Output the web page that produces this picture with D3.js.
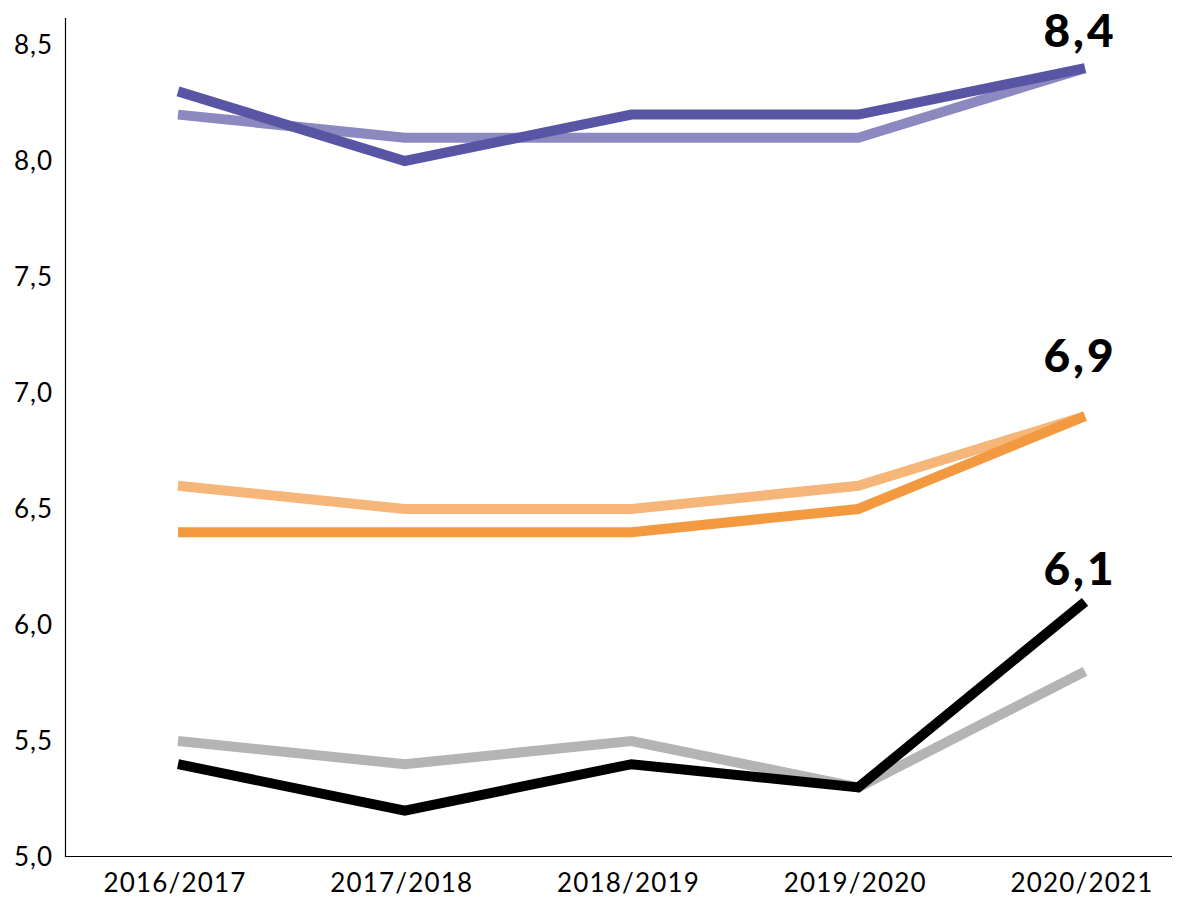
<!DOCTYPE html>
<html>
<head>
<meta charset="utf-8">
<script src="https://cdn.jsdelivr.net/npm/d3@7"></script>
<style>
  body { margin: 0; background: #fff; }
  text { font-family: "Lato", "DejaVu Sans", sans-serif; }
</style>
</head>
<body>
<div id="chart"></div>
<script>
// school years on the x axis
const years = ["2016/2017", "2017/2018", "2018/2019", "2019/2020", "2020/2021"];

// series values
const purpleDark = [8.3, 8.0, 8.2, 8.2, 8.4];
const purpleLight = [8.2, 8.1, 8.1, 8.1, 8.4];
const orangeLight = [6.6, 6.5, 6.5, 6.6, 6.9];
const orangeDark = [6.4, 6.4, 6.4, 6.5, 6.9];
const greyLine = [5.5, 5.4, 5.5, 5.3, 5.8];
const blackLine = [5.4, 5.2, 5.4, 5.3, 6.1];

const yTicks = [5.0, 5.5, 6.0, 6.5, 7.0, 7.5, 8.0, 8.5];

// end labels
const endLabels = ["8,4", "6,9", "6,1"];
const endValues = [8.4, 6.9, 6.1];

const series = [
  { values: purpleLight, color: "#8b89c0" },
  { values: purpleDark, color: "#5856a4" },
  { values: orangeLight, color: "#f6b679" },
  { values: orangeDark, color: "#f39a40" },
  { values: greyLine, color: "#b4b4b4" },
  { values: blackLine, color: "#000000" }
];

const width = 1184;
const height = 899;

const svg = d3.select("#chart")
  .append("svg")
  .attr("width", width)
  .attr("height", height);

const x = d3.scalePoint()
  .domain(years)
  .range([178, 1085]);

const y = d3.scaleLinear()
  .domain([5.0, 8.5])
  .range([857, 45]);

// axes
svg.append("line")
  .attr("x1", 65.5).attr("x2", 65.5)
  .attr("y1", 18).attr("y2", 857)
  .attr("stroke", "#000").attr("stroke-width", 1.2);

svg.append("line")
  .attr("x1", 65).attr("x2", 1172)
  .attr("y1", 856.5).attr("y2", 856.5)
  .attr("stroke", "#000").attr("stroke-width", 1.2);

svg.selectAll(".ytick")
  .data(yTicks)
  .enter().append("text")
  .attr("class", "ytick")
  .attr("x", 53)
  .attr("y", d => y(d) + 9)
  .attr("text-anchor", "end")
  .style("font-size", "26px")
  .style("letter-spacing", "1px")
  .text(d => d3.format(".1f")(d).replace(".", ","));

svg.selectAll(".xtick")
  .data(years)
  .enter().append("text")
  .attr("class", "xtick")
  .attr("x", d => x(d) - 3)
  .attr("y", 892)
  .attr("text-anchor", "middle")
  .style("font-size", "26px")
  .style("letter-spacing", "1.2px")
  .text(d => d);

// lines
const line = d3.line()
  .x((d, i) => x(years[i]))
  .y(d => y(d));

series.forEach(s => {
  svg.append("path")
    .datum(s.values)
    .attr("d", line)
    .attr("fill", "none")
    .attr("stroke", s.color)
    .attr("stroke-width", 10)
    .attr("stroke-linejoin", "miter")
    .attr("stroke-linecap", "butt");
});

// value labels at the end of the lines
const labelDy = [-21, -44, -17];
endLabels.forEach((t, i) => {
  svg.append("text")
    .attr("x", x(years[years.length - 1]) - 5)
    .attr("y", y(endValues[i]) + labelDy[i])
    .attr("text-anchor", "middle")
    .style("font-size", "46px")
    .style("font-weight", "900")
    .style("letter-spacing", "3px")
    .text(t);
});
</script>
</body>
</html>
